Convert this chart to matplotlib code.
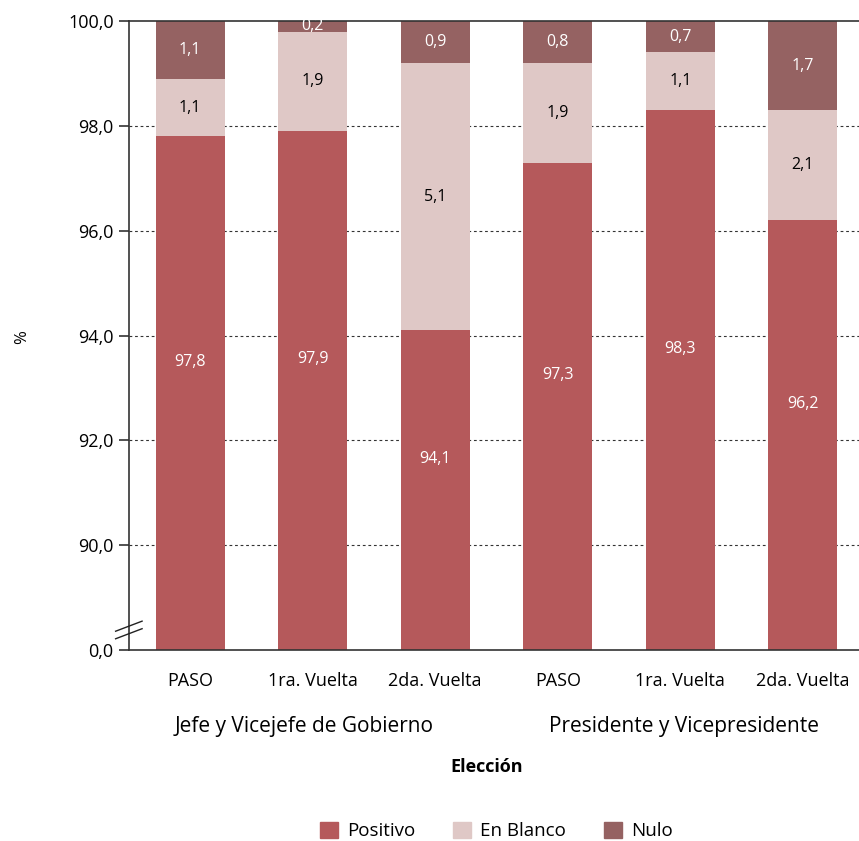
import matplotlib
matplotlib.use("Agg")
import matplotlib.pyplot as plt
from matplotlib.patches import Patch
import numpy as np

categories = ["PASO", "1ra. Vuelta", "2da. Vuelta", "PASO", "1ra. Vuelta", "2da. Vuelta"]
groups = ["Jefe y Vicejefe de Gobierno", "Presidente y Vicepresidente"]
positivo = [97.8, 97.9, 94.1, 97.3, 98.3, 96.2]
blanco = [1.1, 1.9, 5.1, 1.9, 1.1, 2.1]
nulo = [1.1, 0.2, 0.9, 0.8, 0.7, 1.7]
yticks = [88, 90, 92, 94, 96, 98, 100]
yticklabels = ["0,0", "90,0", "92,0", "94,0", "96,0", "98,0", "100,0"]

c_pos = "#b5595b"
c_bla = "#dfc8c6"
c_nul = "#956262"

plt.rcParams['font.family'] = ['Open Sans', 'DejaVu Sans']

fig = plt.figure(figsize=(8.59, 8.41), dpi=100)
ax = fig.add_axes([0.150, 0.227, 0.856, 0.748])

x = np.arange(len(categories))
w = 0.565
ymin, ymax = 88, 100

pos = np.array(positivo)
bla = np.array(blanco)
nul = np.array(nulo)

ax.bar(x, pos - ymin, bottom=ymin, width=w, color=c_pos, zorder=2)
ax.bar(x, bla, bottom=pos, width=w, color=c_bla, zorder=2)
ax.bar(x, nul, bottom=pos + bla, width=w, color=c_nul, zorder=2)

def fmt(v):
    return f"{v:.1f}".replace(".", ",")

for i in range(len(x)):
    ax.text(x[i], (ymin + pos[i]) / 2 + 0.6, fmt(pos[i]), ha="center", va="center",
            color="white", fontsize=11.5, zorder=3)
    ax.text(x[i], pos[i] + bla[i] / 2, fmt(bla[i]), ha="center", va="center",
            color="black", fontsize=11.5, zorder=3)
    top = min(pos[i] + bla[i] + nul[i], ymax)
    ax.text(x[i], (pos[i] + bla[i] + top) / 2, fmt(nul[i]), ha="center", va="center",
            color="white", fontsize=11.5, zorder=3, clip_on=False)

ax.set_ylim(ymin, ymax)
ax.set_xlim(-0.5, 5.5)
ax.set_yticks(yticks)
ax.set_yticklabels(yticklabels, fontsize=13)
for yv in yticks[1:-1]:
    ax.axhline(yv, color="#333333", lw=0.8, ls=(0, (2.5, 2.5)), zorder=1)

ax.set_xticks(x)
ax.set_xticklabels(categories, fontsize=13)
ax.tick_params(axis="x", length=0, pad=16)
ax.tick_params(axis="y", length=7, width=1.2, color="#333333", pad=4)

for s in ["left", "bottom", "top"]:
    ax.spines[s].set_color("#333333")
    ax.spines[s].set_linewidth(1.2)
ax.spines["right"].set_visible(False)

# axis break marks
trans = ax.transAxes
for dy in [0.0, 0.012]:
    ax.plot([-0.018, 0.018], [0.018 + dy, 0.034 + dy], transform=trans,
            color="#222222", lw=1.0, clip_on=False, zorder=5)

# group labels
ax.text(0.93, -0.121, groups[0], transform=ax.get_xaxis_transform(), ha="center",
        va="center", fontsize=15)
ax.text(4.03, -0.121, groups[1], transform=ax.get_xaxis_transform(), ha="center",
        va="center", fontsize=15)

fig.text(0.566, 1 - 767 / 841, "Elección", ha="center", va="center",
         fontsize=13, fontweight="bold")
fig.text(0.026, 1 - 337 / 841, "%", ha="center", va="center", rotation=90, fontsize=12)

handles = [Patch(color=c_pos, label="Positivo"),
           Patch(color=c_bla, label="En Blanco"),
           Patch(color=c_nul, label="Nulo")]
fig.legend(handles=handles, loc="center", bbox_to_anchor=(0.578, 1 - 831 / 841),
           ncol=3, frameon=False, fontsize=13.5, handlelength=0.95, handleheight=0.95,
           columnspacing=2.0, handletextpad=0.5)

fig.savefig("out.png", dpi=100)
